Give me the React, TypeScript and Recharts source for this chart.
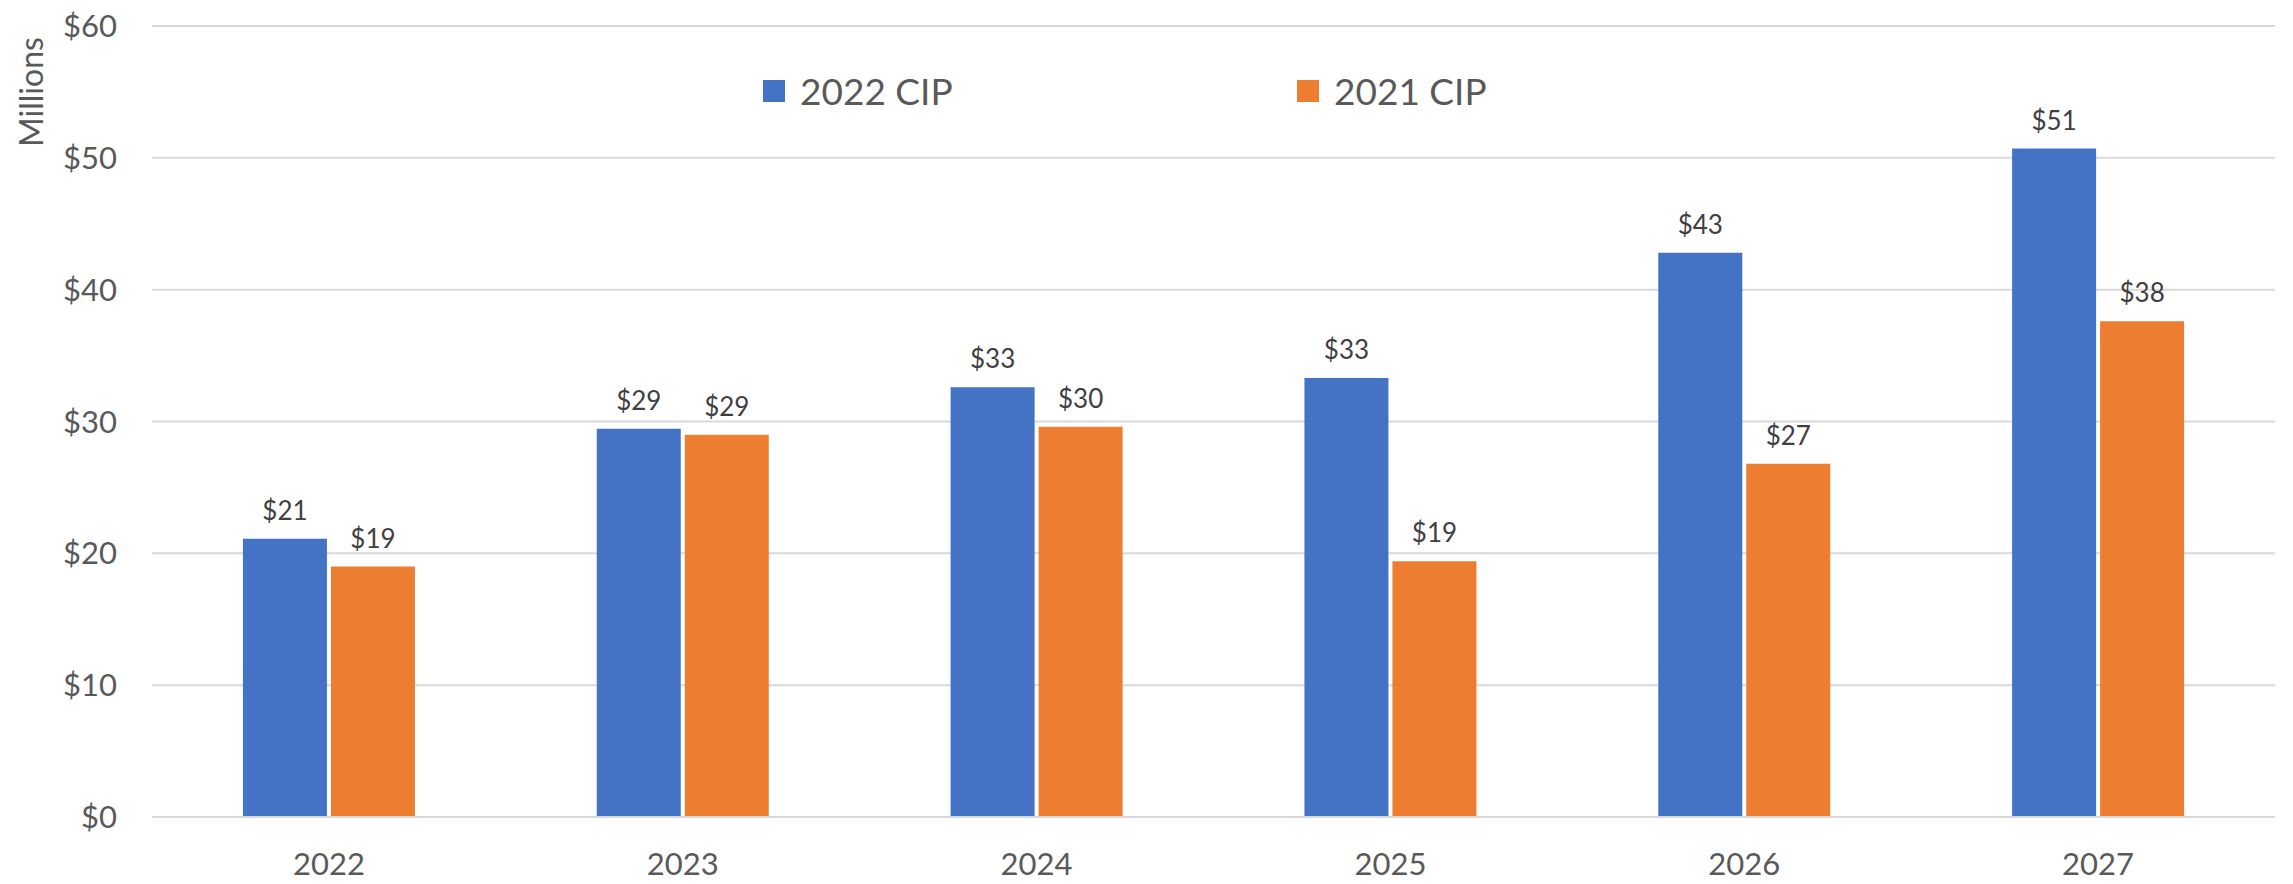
import { BarChart, Bar, XAxis, YAxis, CartesianGrid, LabelList } from 'recharts'

const years = ['2022', '2023', '2024', '2025', '2026', '2027']
const cip2022 = [21.1, 29.45, 32.6, 33.3, 42.8, 50.7]
const cip2021 = [19.0, 29.0, 29.6, 19.4, 26.8, 37.6]
const yTicks = [0, 10, 20, 30, 40, 50, 60]

const seriesNames = ['2022 CIP', '2021 CIP']
const BLUE = '#4472C4'
const ORANGE = '#ED7D31'
const FONT = 'Lato, "Open Sans", sans-serif'

const data = years.map((year, i) => ({ year, a: cip2022[i], b: cip2021[i] }))

const money = (v: number) => `$${Math.round(v)}`

function LegendBox() {
  const items = [
    { name: seriesNames[0], color: BLUE },
    { name: seriesNames[1], color: ORANGE },
  ]
  return (
    <div
      style={{
        position: 'absolute',
        top: 71,
        left: 763,
        display: 'flex',
        fontFamily: FONT,
        fontSize: 37,
        color: '#595959',
      }}
    >
      {items.map((it) => (
        <div key={it.name} style={{ display: 'flex', alignItems: 'center', width: 534, height: 40 }}>
          <span style={{ width: 22, height: 22, background: it.color, marginRight: 15, display: 'inline-block' }} />
          <span style={{ lineHeight: '40px' }}>{it.name}</span>
        </div>
      ))}
    </div>
  )
}

export default function App() {
  const tick = { fill: '#595959', fontSize: 31, fontFamily: FONT }
  return (
    <div style={{ position: 'absolute', left: 0, top: 0, width: 2293, height: 884, background: '#fff' }}>
      <BarChart
        width={2293}
        height={884}
        data={data}
        margin={{ top: 26, right: 18, bottom: 0, left: 0 }}
        barCategoryGap="25.7%"
        barGap={4}
      >
        <CartesianGrid vertical={false} stroke="#D9D9D9" strokeWidth={2} />
        <XAxis
          dataKey="year"
          height={67}
          axisLine={{ stroke: '#D9D9D9', strokeWidth: 2 }}
          tickLine={false}
          tickSize={0}
          tickMargin={36}
          tick={tick}
        />
        <YAxis
          width={152}
          domain={[0, 60]}
          ticks={yTicks}
          tickFormatter={(v: number) => `$${v}`}
          axisLine={false}
          tickLine={false}
          tickSize={0}
          tickMargin={35}
          tick={tick}
          label={{
            content: () => (
              <text
                transform="translate(43,92) rotate(-90)"
                textAnchor="middle"
                fill="#595959"
                fontSize={32}
                fontFamily={FONT}
              >
                Millions
              </text>
            ),
          }}
        />
        <Bar dataKey="a" name={seriesNames[0]} fill={BLUE} isAnimationActive={false}>
          <LabelList dataKey="a" position="top" offset={19} formatter={money} fill="#404040" fontSize={26} fontFamily={FONT} />
        </Bar>
        <Bar dataKey="b" name={seriesNames[1]} fill={ORANGE} isAnimationActive={false}>
          <LabelList dataKey="b" position="top" offset={19} formatter={money} fill="#404040" fontSize={26} fontFamily={FONT} />
        </Bar>
      </BarChart>
      <LegendBox />
    </div>
  )
}
